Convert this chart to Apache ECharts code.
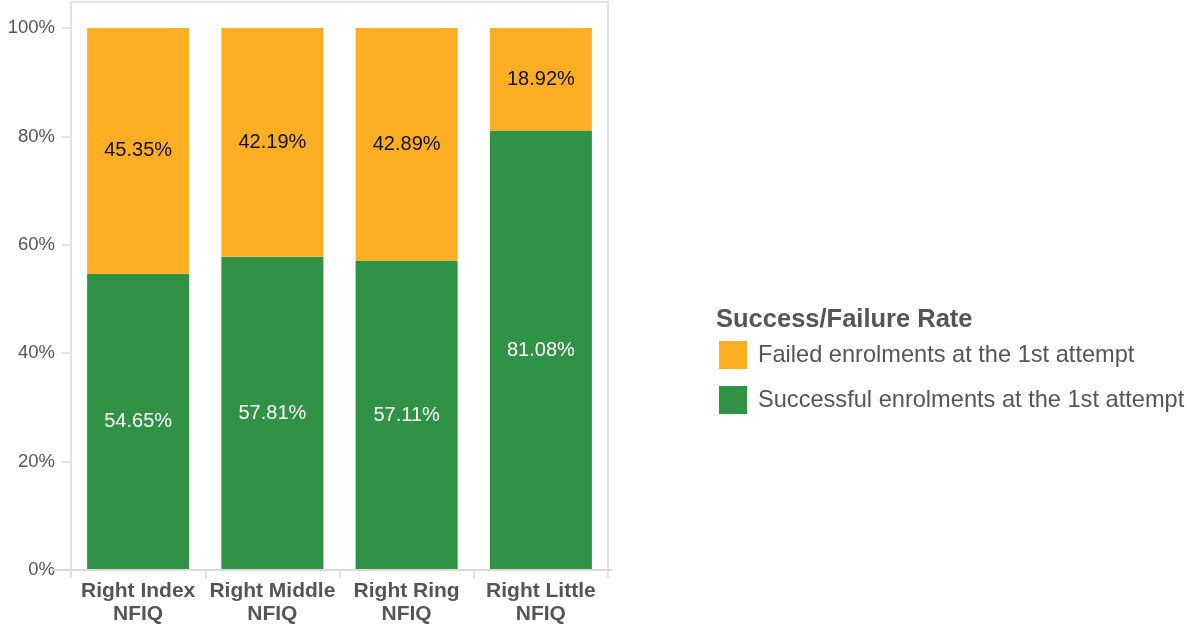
<!DOCTYPE html>
<html>
<head>
<meta charset="utf-8">
<script src="https://cdn.jsdelivr.net/npm/echarts@6/dist/echarts.min.js"></script>
<style>
  html, body { margin: 0; padding: 0; background: #fff; }
  #chart { width: 1187px; height: 627px; }
</style>
</head>
<body>
<div id="chart"></div>
<script>
// Enrolment outcome per finger (percent of attempts)
const fingers = ['Right Index\nNFIQ', 'Right Middle\nNFIQ', 'Right Ring\nNFIQ', 'Right Little\nNFIQ'];
const successRates = [54.65, 57.81, 57.11, 81.08];
const failureRates = [45.35, 42.19, 42.89, 18.92];
const yTicks = [0, 20, 40, 60, 80, 100];

const seriesNames = ['Successful enrolments at the 1st attempt', 'Failed enrolments at the 1st attempt'];
const FONT = '"Liberation Sans", Arial, sans-serif';
const GREEN = '#2f9245';
const ORANGE = '#feae23';
const FRAME = '#d9d9d9';
const TEXT = '#555555';

const chart = echarts.init(document.getElementById('chart'), null, { renderer: 'canvas' });

chart.setOption({
  animation: false,
  backgroundColor: '#ffffff',
  textStyle: { fontFamily: FONT },
  title: {
    text: 'Success/Failure Rate',
    left: 711,
    top: 302,
    textStyle: { fontFamily: FONT, fontSize: 25.5, fontWeight: 'bold', color: TEXT }
  },
  legend: {
    data: [seriesNames[1], seriesNames[0]],
    orient: 'vertical',
    left: 714,
    top: 336,
    itemWidth: 28,
    itemHeight: 28,
    itemGap: 17,
    icon: 'rect',
    textStyle: { fontFamily: FONT, fontSize: 23.6, color: TEXT, padding: [0, 0, 0, 6] }
  },
  grid: {
    left: 71,
    right: 579,
    top: 2,
    bottom: 57,
    show: true,
    borderColor: FRAME,
    borderWidth: 1.5,
    containLabel: false
  },
  xAxis: {
    type: 'category',
    data: fingers,
    axisLine: { show: true, lineStyle: { color: FRAME, width: 2 } },
    axisTick: { show: true, length: 8, lineStyle: { color: FRAME, width: 1.5 } },
    axisLabel: {
      fontFamily: FONT,
      fontSize: 21,
      fontWeight: 'bold',
      color: TEXT,
      lineHeight: 23,
      margin: 10,
      interval: 0
    }
  },
  yAxis: {
    type: 'value',
    min: 0,
    max: 104.8,
    interval: 20,
    splitLine: { show: false },
    axisLine: { show: false },
    axisTick: { show: true, length: 9, customValues: yTicks, lineStyle: { color: FRAME, width: 1.5 } },
    axisLabel: {
      customValues: yTicks,
      fontFamily: FONT,
      fontSize: 18.5,
      color: TEXT,
      margin: 16,
      formatter: v => v + '%'
    }
  },
  graphic: [
    {
      type: 'line',
      shape: { x1: 52, y1: 570, x2: 612, y2: 570 },
      style: { stroke: FRAME, lineWidth: 2 },
      z: 100
    }
  ],
  series: [
    {
      name: seriesNames[0],
      type: 'bar',
      stack: 'rate',
      data: successRates,
      barWidth: '76%',
      itemStyle: { color: GREEN },
      label: {
        show: true,
        position: 'inside',
        color: '#ffffff',
        fontFamily: FONT,
        fontSize: 20,
        formatter: p => p.value.toFixed(2) + '%'
      }
    },
    {
      name: seriesNames[1],
      type: 'bar',
      stack: 'rate',
      data: failureRates,
      barWidth: '76%',
      itemStyle: { color: ORANGE },
      label: {
        show: true,
        position: 'inside',
        color: '#111111',
        fontFamily: FONT,
        fontSize: 20,
        formatter: p => p.value.toFixed(2) + '%'
      }
    }
  ]
});
</script>
</body>
</html>
